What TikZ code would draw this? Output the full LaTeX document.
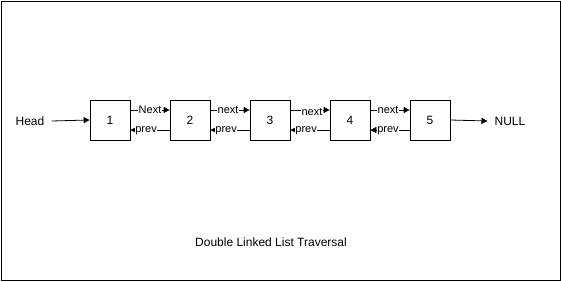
\documentclass[tikz,border=0pt]{standalone}
\usepackage{fontspec}
\setmainfont{Liberation Sans}
\usetikzlibrary{arrows.meta}
\begin{document}
\begin{tikzpicture}[x=1pt,y=1pt,
  cell/.style={draw,line width=0.8pt,minimum width=40pt,minimum height=40pt,inner sep=0pt,font=\fontsize{12}{14}\selectfont},
  txt/.style={inner sep=0pt,font=\fontsize{12}{14}\selectfont},
  link/.style={line width=0.8pt,-{Triangle[length=6pt,width=6pt]}},
  lbl/.style={fill=white,inner sep=0.5pt,font=\fontsize{11}{13}\selectfont}]
  \useasboundingbox (0,0) rectangle (561,281);
  % outer frame
  \draw[line width=0.8pt] (1,1) rectangle (560,280);
  % list nodes
  \node[cell] (n1) at (110,161) {1};
  \node[cell] (n2) at (190,161) {2};
  \node[cell] (n3) at (270,161) {3};
  \node[cell] (n4) at (350,161) {4};
  \node[cell] (n5) at (430,161) {5};
  % end labels
  \node[txt] (head) at (30,160) {Head};
  \node[txt] (null) at (510,160) {NULL};
  \node[txt] (title) at (271,39) {Double Linked List Traversal};
  \draw[link] ([xshift=7pt]head.east) -- (n1.west);
  \draw[link] (n5.east) -- ([xshift=-7pt]null.west);
  % forward links (upper row)
  \draw[link] ([yshift=10pt]n1.east) -- node[lbl]{Next} ([yshift=10pt]n2.west);
  \draw[link] ([yshift=10pt]n2.east) -- node[lbl,pos=0.45]{next} ([yshift=10pt]n3.west);
  \draw[link] ([yshift=10pt]n3.east) -- node[lbl,pos=0.55,yshift=-2pt]{next} ([yshift=10pt]n4.west);
  \draw[link] ([yshift=10pt]n4.east) -- node[lbl,pos=0.45]{next} ([yshift=10pt]n5.west);
  % backward links (lower row)
  \draw[link] ([yshift=-10pt]n2.west) -- node[lbl,pos=0.6,yshift=-1pt]{prev} ([yshift=-10pt]n1.east);
  \draw[link] ([yshift=-10pt]n3.west) -- node[lbl,pos=0.6,yshift=-1pt]{prev} ([yshift=-10pt]n2.east);
  \draw[link] ([yshift=-10pt]n4.west) -- node[lbl,pos=0.6,yshift=-1pt]{prev} ([yshift=-10pt]n3.east);
  \draw[link] ([yshift=-10pt]n5.west) -- node[lbl,pos=0.55,yshift=-1pt]{prev} ([yshift=-10pt]n4.east);
\end{tikzpicture}
\end{document}
